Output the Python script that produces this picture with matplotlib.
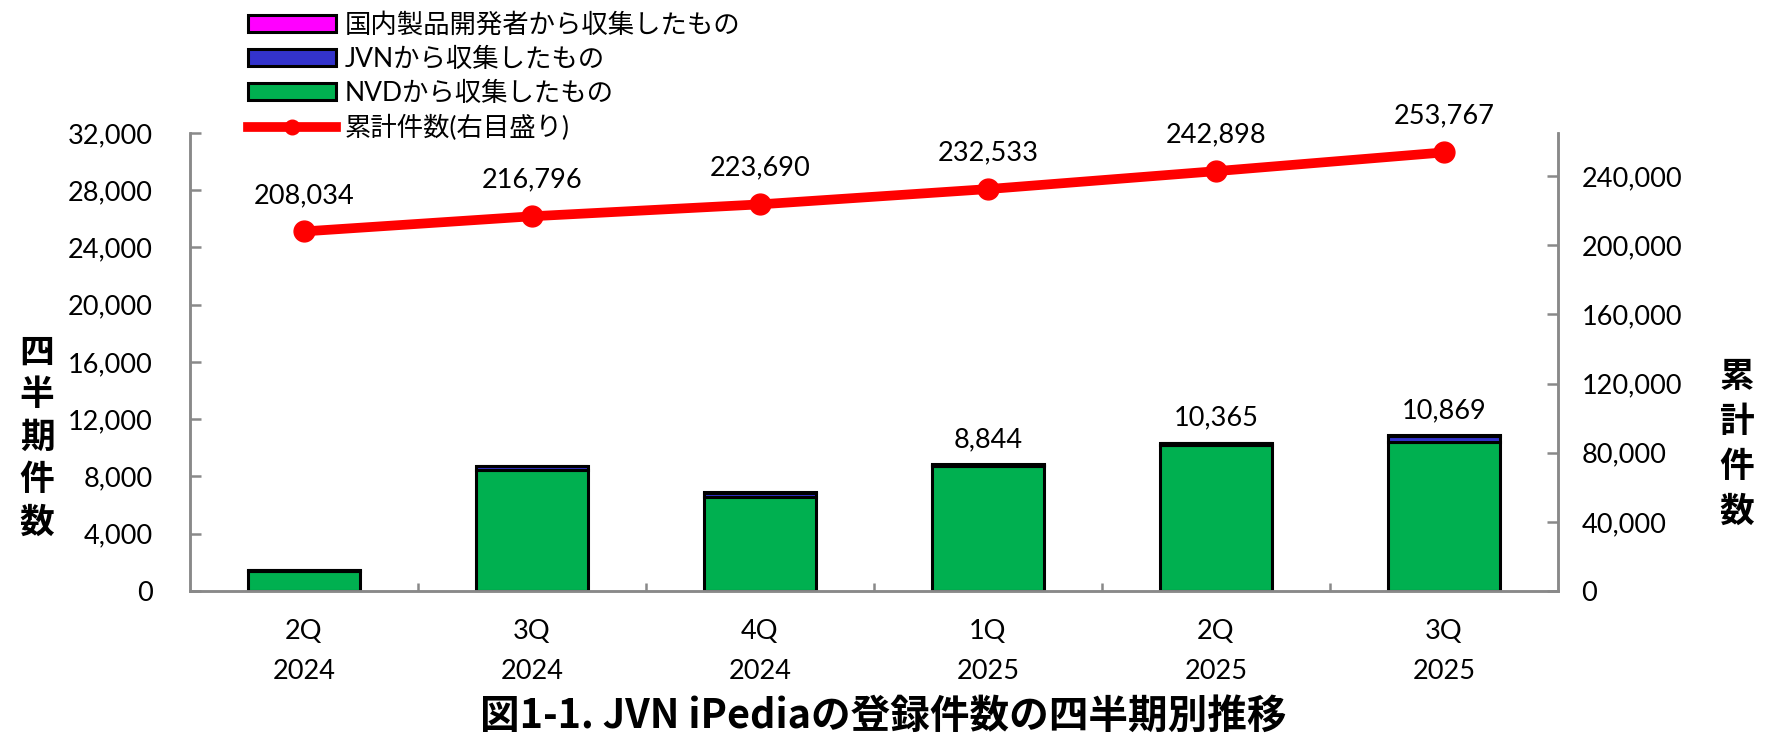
import matplotlib
matplotlib.use("Agg")
import matplotlib.pyplot as plt
import numpy as np
from matplotlib.ticker import FuncFormatter, FixedLocator

plt.rcParams["font.family"] = ["Lato", "Noto Sans CJK JP"]

quarters = ["2Q\n2024", "3Q\n2024", "4Q\n2024", "1Q\n2025", "2Q\n2025", "3Q\n2025"]
nvd = [1380, 8420, 6580, 8700, 10200, 10380]
jvn = [60, 300, 270, 100, 125, 450]
domestic = [40, 42, 44, 44, 40, 39]
bar_labels = [None, None, None, "8,844", "10,365", "10,869"]
cumulative = [208034, 216796, 223690, 232533, 242898, 253767]

GREEN = "#00B050"
BLUE = "#3333CC"
MAGENTA = "#FF00FF"
RED = "#FF0000"
GRAY = "#898989"

fig = plt.figure(figsize=(17.67, 7.56), dpi=100)
ax = fig.add_axes([0.1075, 0.2183, 0.7742, 0.6058])
ax2 = ax.twinx()

x = np.arange(len(quarters))
nvd = np.array(nvd)
jvn = np.array(jvn)
domestic = np.array(domestic)

edge = dict(edgecolor="black", linewidth=2.2)
b_nvd = ax.bar(x, nvd, width=0.49, color=GREEN, label="NVDから収集したもの", **edge)
b_jvn = ax.bar(x, jvn, width=0.49, bottom=nvd, color=BLUE, label="JVNから収集したもの", **edge)
b_dom = ax.bar(x, domestic, width=0.49, bottom=nvd + jvn, color=MAGENTA,
               label="国内製品開発者から収集したもの", **edge)

totals = nvd + jvn + domestic
for xi, t, lab in zip(x, totals, bar_labels):
    if lab:
        ax.annotate(lab, (xi, t), xytext=(0, 9), textcoords="offset points",
                    ha="center", va="bottom", fontsize=19.5)

line, = ax2.plot(x, cumulative, color=RED, linewidth=7, marker="o", markersize=15,
                 label="累計件数(右目盛り)")
for xi, c in zip(x, cumulative):
    ax2.annotate(f"{c:,}", (xi, c), xytext=(0, 17), textcoords="offset points",
                 ha="center", va="bottom", fontsize=19.5)

ax.set_xlim(-0.5, len(quarters) - 0.5)
ax.set_ylim(0, 32000)
ax.set_yticks(np.arange(0, 32001, 4000))
ax.yaxis.set_major_formatter(FuncFormatter(lambda v, p: f"{int(v):,}"))
ax2.set_ylim(0, 265000)
ax2.set_yticks(np.arange(0, 240001, 40000))
ax2.yaxis.set_major_formatter(FuncFormatter(lambda v, p: f"{int(v):,}"))

ax.set_xticks(x)
ax.set_xticklabels(quarters, linespacing=1.75)
ax.xaxis.set_minor_locator(FixedLocator(np.arange(0.5, len(quarters) - 1, 1.0)))

for a in (ax, ax2):
    a.spines["top"].set_visible(False)
    for s in ("left", "right", "bottom"):
        a.spines[s].set_color(GRAY)
        a.spines[s].set_linewidth(1.8)

ax.tick_params(axis="x", which="major", length=0, pad=20, labelsize=19.5)
ax.tick_params(axis="x", which="minor", direction="in", length=6, width=1.8, color=GRAY)
ax.tick_params(axis="y", direction="in", length=8, width=1.8, color=GRAY, pad=27, labelsize=19.5)
ax2.tick_params(axis="y", direction="in", length=8, width=1.8, color=GRAY, pad=17, labelsize=19.5)

fig.text(0.021, 0.422, "四\n半\n期\n件\n数", fontsize=25, fontweight="bold",
         family="Noto Sans CJK JP", ha="center", va="center", linespacing=1.27)
fig.text(0.983, 0.413, "累\n計\n件\n数", fontsize=25, fontweight="bold",
         family="Noto Sans CJK JP", ha="center", va="center", linespacing=1.36)

fig.text(0.5, 0.052, "図1-1. JVN iPediaの登録件数の四半期別推移", fontsize=28.5,
         fontweight="bold", family="Noto Sans CJK JP", ha="center", va="center")

handles = [b_dom, b_jvn, b_nvd, line]
labels = [h.get_label() for h in handles]
fig.legend(handles, labels, loc="upper left", bbox_to_anchor=(0.1373, 0.99),
           frameon=False, fontsize=19, handlelength=3.33, handleheight=0.6,
           handletextpad=0.34, labelspacing=0.34, borderaxespad=0.0, borderpad=0.2,
           markerscale=0.7)

fig.savefig("out.png", dpi=100)
